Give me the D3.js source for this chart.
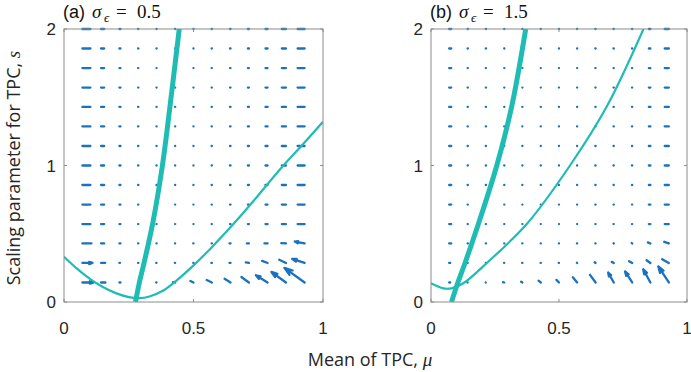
<!DOCTYPE html>
<html>
<head>
<style>
  body{ margin:0; background:#fff; }
  .tick-label{ font-family:"Liberation Sans", Arial, sans-serif; font-size:17px; fill:#262626; }
  .axis-title{ font-family:"Open Sans", sans-serif; font-size:18px; fill:#262626; }
  .math{ font-family:"Liberation Serif", serif; font-style:italic; }
</style>
<script src="https://d3js.org/d3.v7.min.js"></script>
</head>
<body>
<div id="chart"></div>
<script>
// grid of the quiver plot
const muGrid = [0.071, 0.143, 0.214, 0.286, 0.357, 0.429, 0.5, 0.571, 0.643, 0.714, 0.786, 0.857, 0.929];
const sLow = [0.143, 0.286, 0.429];
const sUpper = [0.571, 0.714, 0.857, 1.0, 1.143, 1.286, 1.429, 1.571, 1.714, 1.857, 2.0];
const xTicks = [0, 0.5, 1];
const yTicks = [0, 1, 2];

// arrow components (hundredths of an axis unit), panel (a)
const uLowA = [
  [4.3, 1.7, 0.4, 0.1, -0.1, -0.8, -1.2, -2.0, -2.3, -2.9, -4.5, -5.6, -7.8],
  [3.9, 1.6, 0.2, 0.1, -0.1, -0.1, -0.1, -0.2, -0.4, -1.2, -2.1, -2.6, -4.8],
  [3.5, 1.2, 0.4, 0.1, 0.05, -0.05, -0.1, -0.1, -0.4, -0.8, -1.2, -1.8, -3.8]
];
const vLowA = [
  [0, 0, 0, 0, 0, 0.2, 1.1, 1.8, 2.7, 4.0, 5.3, 7.7, 10.7],
  [0, 0, 0, 0, 0, 0, 0, 0, 0, 0.4, 1.5, 2.3, 3.0],
  [0, 0, 0, 0, 0, 0, 0, 0, 0, 0, 0, 0.3, 1.4]
];
const uUpperA = [3.1, 1.2, 0.4, 0.1, 0.05, 0.03, -0.03, -0.1, -0.2, -0.4, -0.8, -1.6, -2.7];

// arrow components, panel (b)
const uLowB = [
  [0.4, -0.05, -0.05, -0.45, -0.5, -0.9, -1.0, -1.7, -2.2, -2.2, -2.8, -2.8, -4.1],
  [0.4, 0.05, 0.05, -0.05, -0.1, -0.1, -0.1, -0.1, -0.4, -0.8, -1.2, -1.5, -2.6],
  [0.8, 0.1, 0.1, 0.05, -0.05, -0.05, -0.05, -0.1, -0.1, -0.1, -0.2, -1.0, -1.8]
];
const vLowB = [
  [0, 0, 0.05, 0.3, 0.6, 1.3, 1.9, 3.8, 5.6, 7.3, 8.1, 9.7, 11.8],
  [0, 0, 0, 0, 0, 0, 0, 0.1, 0.5, 0.8, 1.3, 2.0, 2.8],
  [0, 0, 0, 0, 0, 0, 0, 0, 0, 0.1, 0.3, 0.8, 1.2]
];
const uUpperB = [0.8, 0.1, 0.1, 0.05, -0.03, -0.03, -0.03, -0.05, -0.1, -0.1, -0.1, -0.6, -1.6];

// nullclines [mu, s]
const thickA = [[0.276,0],[0.291,0.143],[0.309,0.286],[0.342,0.571],[0.38,1.0],[0.409,1.43],[0.445,2.0]];
const thinA = [[0,0.332],[0.05,0.245],[0.1,0.17],[0.15,0.11],[0.2,0.065],[0.25,0.036],[0.29,0.028],
  [0.33,0.04],[0.38,0.08],[0.42,0.135],[0.49,0.25],[0.57,0.4],[0.654,0.571],[0.72,0.714],
  [0.783,0.857],[0.847,1.0],[0.92,1.15],[1.0,1.32]];
const thickB = [[0.08,0],[0.105,0.143],[0.133,0.286],[0.185,0.571],[0.257,1.0],[0.315,1.43],[0.37,2.0]];
const thinB = [[0,0.137],[0.048,0.10],[0.08,0.1],[0.126,0.137],[0.218,0.286],[0.374,0.571],
  [0.543,1.0],[0.686,1.43],[0.83,2.0]];

const panels = [
  {tag:'(a)', sigma:'0.5', left:64, right:323, uLow:uLowA, vLow:vLowA, uUpper:uUpperA, thick:thickA, thin:thinA},
  {tag:'(b)', sigma:'1.5', left:431, right:687, uLow:uLowB, vLow:vLowB, uUpper:uUpperB, thick:thickB, thin:thinB}
];

const width = 691, height = 372;
const plotTop = 29, plotBottom = 302;
const arrowColor = '#1a72bf';
const lineColor = '#1fbcb3';

const svg = d3.select('#chart').append('svg')
  .attr('width', width).attr('height', height);

const defs = svg.append('defs');

panels.forEach((p, pi) => {
  const x = d3.scaleLinear().domain([0, 1]).range([p.left, p.right]);
  const y = d3.scaleLinear().domain([0, 2]).range([plotBottom, plotTop]);
  const g = svg.append('g');

  defs.append('clipPath').attr('id', 'clip' + pi)
    .append('rect')
    .attr('x', p.left).attr('y', plotTop)
    .attr('width', p.right - p.left).attr('height', plotBottom - plotTop);

  // vectors
  const arrows = [];
  sLow.forEach((s, ri) => muGrid.forEach((mu, ci) => {
    arrows.push({mu, s, u: p.uLow[ri][ci], v: p.vLow[ri][ci]});
  }));
  sUpper.forEach(s => muGrid.forEach((mu, ci) => {
    arrows.push({mu, s, u: p.uUpper[ci], v: 0});
  }));

  const arrowPath = d => {
    const x0 = x(d.mu), y0 = y(d.s);
    const x1 = x(d.mu + d.u / 100), y1 = y(d.s + d.v / 100);
    const dx = x1 - x0, dy = y1 - y0;
    const a = 0.33, b = 0.33;
    let path = `M${x0},${y0}L${x1},${y1}`;
    if (Math.hypot(dx, dy) > 9.5) {
      path += `M${x1 - a * (dx + b * dy)},${y1 - a * (dy - b * dx)}L${x1},${y1}` +
              `L${x1 - a * (dx - b * dy)},${y1 - a * (dy + b * dx)}`;
    }
    return path;
  };

  g.append('g')
    .selectAll('path')
    .data(arrows)
    .join('path')
    .attr('d', arrowPath)
    .attr('fill', 'none')
    .attr('stroke', arrowColor)
    .attr('stroke-width', 2.3)
    .attr('stroke-linecap', 'round')
    .attr('stroke-linejoin', 'round');

  // nullclines
  const line = d3.line()
    .x(d => x(d[0])).y(d => y(d[1]))
    .curve(d3.curveCatmullRom.alpha(0.5));

  const lines = g.append('g').attr('clip-path', `url(#clip${pi})`);
  lines.append('path')
    .attr('d', line(p.thin))
    .attr('fill', 'none').attr('stroke', lineColor).attr('stroke-width', 2.2);
  lines.append('path')
    .attr('d', line(p.thick))
    .attr('fill', 'none').attr('stroke', lineColor).attr('stroke-width', 5);

  // box
  g.append('rect')
    .attr('x', p.left).attr('y', plotTop)
    .attr('width', p.right - p.left).attr('height', plotBottom - plotTop)
    .attr('fill', 'none').attr('stroke', '#8c8c8c').attr('stroke-width', 1);

  // ticks
  xTicks.forEach(t => {
    g.append('line').attr('x1', x(t)).attr('x2', x(t)).attr('y1', plotBottom).attr('y2', plotBottom - 3)
      .attr('stroke', '#8c8c8c');
    g.append('line').attr('x1', x(t)).attr('x2', x(t)).attr('y1', plotTop).attr('y2', plotTop + 3)
      .attr('stroke', '#8c8c8c');
    g.append('text').attr('class', 'tick-label')
      .attr('x', x(t)).attr('y', plotBottom + 32)
      .attr('text-anchor', 'middle')
      .text(t);
  });
  yTicks.forEach(t => {
    g.append('line').attr('x1', p.left).attr('x2', p.left + 3).attr('y1', y(t)).attr('y2', y(t))
      .attr('stroke', '#8c8c8c');
    g.append('line').attr('x1', p.right).attr('x2', p.right - 3).attr('y1', y(t)).attr('y2', y(t))
      .attr('stroke', '#8c8c8c');
    g.append('text').attr('class', 'tick-label')
      .attr('x', p.left - 8).attr('y', y(t))
      .attr('dy', '0.36em')
      .attr('text-anchor', 'end')
      .text(t);
  });

  // panel title
  const title = g.append('text')
    .attr('y', 18)
    .attr('font-size', 18).attr('fill', '#111');
  title.append('tspan').attr('x', p.left - 1)
    .attr('font-family', '"Liberation Sans", Arial, sans-serif').text(p.tag);
  title.append('tspan').attr('x', p.left + 28).attr('class', 'math').attr('font-size', 19).text('σ');
  title.append('tspan').attr('x', p.left + 40).attr('class', 'math').attr('font-size', 13)
    .attr('dy', 4).text('ϵ');
  title.append('tspan').attr('x', p.left + 52).attr('dy', -4)
    .attr('font-family', '"Liberation Serif", serif').attr('font-size', 19).text('=');
  title.append('tspan').attr('x', p.left + 73)
    .attr('font-family', '"Liberation Serif", serif').attr('font-size', 19).text(p.sigma);
});

// axis titles
const xTitle = svg.append('text').attr('class', 'axis-title')
  .attr('x', 370).attr('y', 366).attr('text-anchor', 'middle');
xTitle.append('tspan').text('Mean of TPC, ');
xTitle.append('tspan').attr('class', 'math').attr('font-size', 19).text('μ');

const yTitle = svg.append('text').attr('class', 'axis-title')
  .attr('transform', 'translate(20,168) rotate(-90)')
  .attr('text-anchor', 'middle');
yTitle.append('tspan').text('Scaling parameter for TPC, ');
yTitle.append('tspan').attr('class', 'math').attr('font-size', 19).text('s');
</script>
</body>
</html>
